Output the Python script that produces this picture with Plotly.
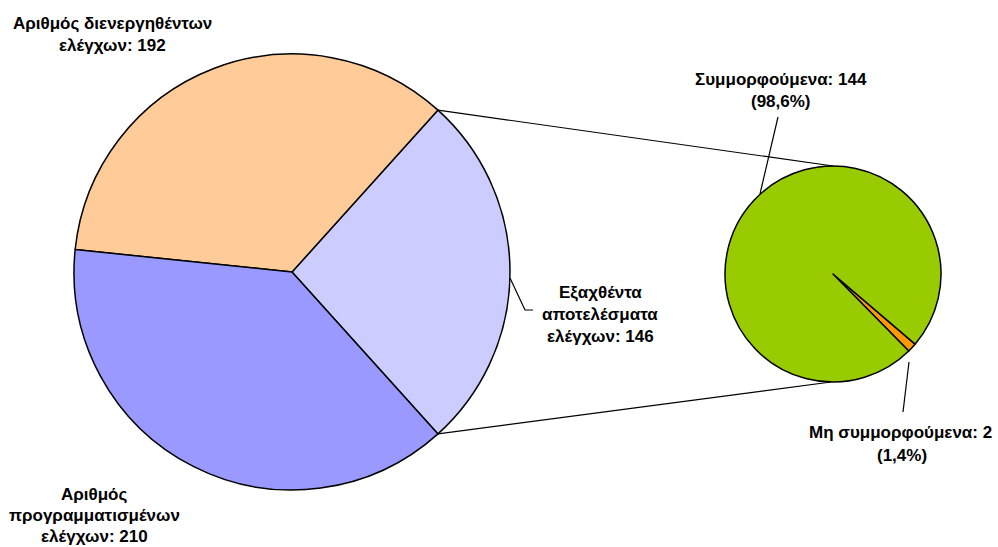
import math
import plotly.graph_objects as go

W, H = 998, 547

# Data
main_labels = ["Εξαχθέντα αποτελέσματα ελέγχων", "Αριθμός διενεργηθέντων ελέγχων", "Αριθμός προγραμματισμένων ελέγχων"]
main_values = [146, 192, 210]
main_colors = ["#CCCCFF", "#FFCC99", "#9999FF"]

sub_labels = ["Μη συμμορφούμενα", "Συμμορφούμενα"]
sub_values = [2, 144]
sub_colors = ["#FF9900", "#99CC00"]

# geometry (pixels)
c1x, c1y, r1 = 292, 272, 218
c2x, c2y, r2 = 833, 274, 108

def dom(cx, cy, r):
    return dict(x=[(cx - r) / W, (cx + r) / W], y=[1 - (cy + r) / H, 1 - (cy - r) / H])

half = 360 * main_values[0] / sum(main_values) / 2
fig = go.Figure()
fig.add_trace(go.Pie(
    labels=main_labels, values=main_values, sort=False, direction="counterclockwise",
    rotation=90 - half, marker=dict(colors=main_colors, line=dict(color="black", width=1.5)),
    textinfo="none", hoverinfo="label+value", domain=dom(c1x, c1y, r1), showlegend=False))

orange_center = 133  # compass degrees
sub_half = 360 * sub_values[0] / sum(sub_values) / 2
fig.add_trace(go.Pie(
    labels=sub_labels, values=sub_values, sort=False, direction="counterclockwise",
    rotation=orange_center - sub_half, marker=dict(colors=sub_colors, line=dict(color="black", width=1.5)),
    textinfo="none", hoverinfo="label+value", domain=dom(c2x, c2y, r2), showlegend=False))

# connector lines
a = math.radians(half)
p_top = (c1x + r1 * math.cos(a), c1y - r1 * math.sin(a))
p_bot = (c1x + r1 * math.cos(a), c1y + r1 * math.sin(a))
shapes = [
    dict(type="line", x0=p_top[0], y0=p_top[1], x1=c2x, y1=c2y - r2),
    dict(type="line", x0=p_bot[0], y0=p_bot[1], x1=c2x - 2, y1=c2y + r2),
    # leader lines
    dict(type="path", path="M 510 278 L 525 310 L 533 310"),
    dict(type="line", x0=778, y0=117, x1=760, y1=194),
    dict(type="line", x0=909, y0=362, x1=903, y1=412),
]
for s in shapes:
    s.update(xref="x", yref="y", line=dict(color="black", width=1.2), layer="above")

font = dict(family="Liberation Sans, Arial, sans-serif", size=17, color="black")
texts = [
    (112, 23, "Αριθμός διενεργηθέντων"), (112, 45, "ελέγχων: 192"),
    (600, 292, "Εξαχθέντα"), (600, 314, "αποτελέσματα"), (600, 336, "ελέγχων: 146"),
    (94, 494, "Αριθμός"), (94, 515, "προγραμματισμένων"), (94, 536, "ελέγχων: 210"),
    (781, 79, "Συμμορφούμενα: 144"), (781, 101, "(98,6%)"),
    (900, 432, "Μη συμμορφούμενα: 2"), (902, 455, "(1,4%)"),
]
annotations = [dict(x=x, y=y, text="<b>%s</b>" % t, showarrow=False, xref="x", yref="y",
                    xanchor="center", yanchor="middle", font=font) for x, y, t in texts]

fig.update_layout(
    width=W, height=H, margin=dict(l=0, r=0, t=0, b=0),
    paper_bgcolor="white", plot_bgcolor="white",
    xaxis=dict(range=[0, W], visible=False, fixedrange=True),
    yaxis=dict(range=[H, 0], visible=False, fixedrange=True),
    shapes=shapes, annotations=annotations,
)
fig.write_html("out.html", config={"displayModeBar": False},
               post_script="document.body.style.margin='0px';")
